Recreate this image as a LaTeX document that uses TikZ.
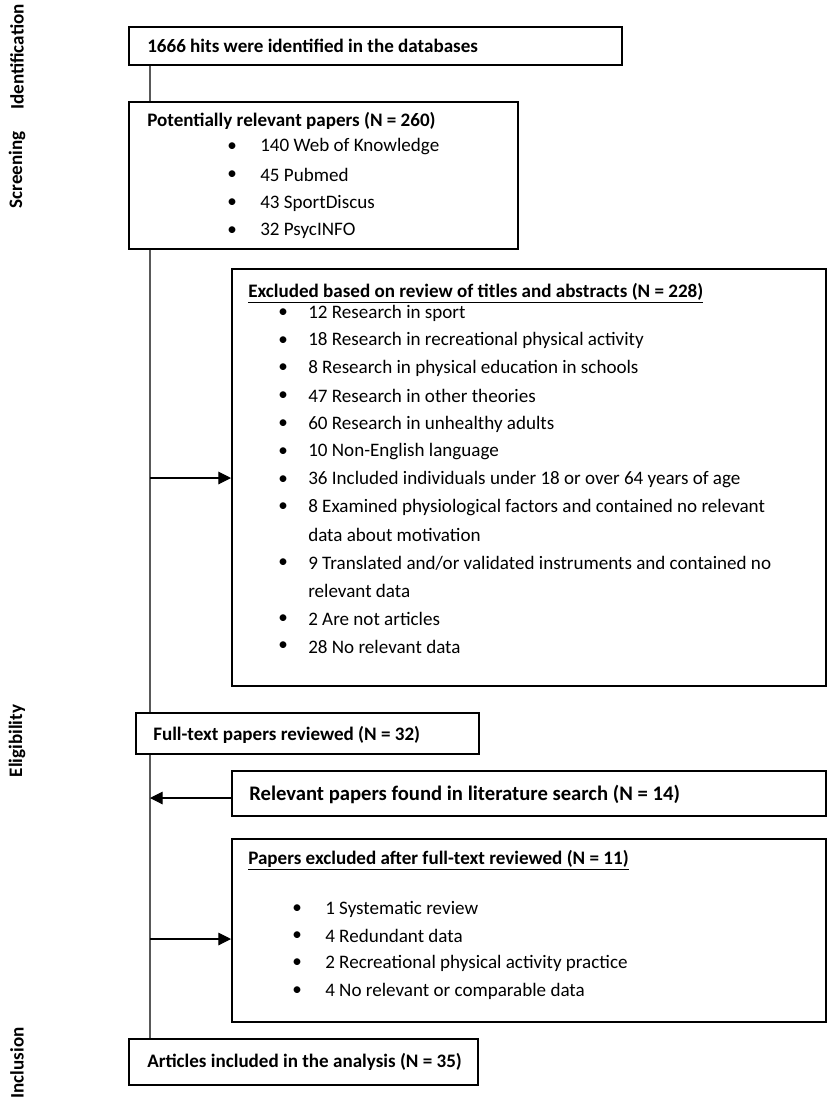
\documentclass[tikz,border=0pt]{standalone}
\usepackage{fontspec}
\setmainfont{Carlito}
\usetikzlibrary{arrows.meta,positioning,fit,backgrounds}

\begin{document}
\begin{tikzpicture}[x=0.75pt,y=-0.75pt,
  box/.style={draw,fill=white,line width=1.5pt,inner sep=0pt},
  txt/.style={anchor=west,inner sep=0pt,font=\fontsize{14.3}{16}\selectfont},
  head/.style={txt,font=\fontsize{14.3}{16}\selectfont\bfseries},
  phase/.style={rotate=90,inner sep=0pt,font=\fontsize{14.3}{16}\selectfont\bfseries},
  arrow/.style={-{Triangle[length=9.5pt,width=9.5pt]},line width=0.8pt}]
\useasboundingbox (0,0) rectangle (835,1104);

% phases
\node[phase] (ident) at (17,57) {Identification};
\node[phase] (screen) at (17,170) {Screening};
\node[phase] (elig) at (17,741) {Eligibility};
\node[phase] (incl) at (17,1063) {Inclusion};

% boxes
\node[box,fit={(129,27) (622,65)}] (hits) {};
\node[box,fit={(129,102) (518,249)}] (pot) {};
\node[box,fit={(232,269) (826,686)}] (excl) {};
\node[box,fit={(136,713) (479,754)}] (full) {};
\node[box,fit={(232,771) (826,816)}] (rel) {};
\node[box,fit={(232,839) (826,1022)}] (pexcl) {};
\node[box,fit={(129,1039) (478,1085)}] (art) {};

% texts
\node[head] (hitst) at (147,46) {1666 hits were identified in the databases};
\node[head] (pott) at (147,121) {Potentially relevant papers (N = 260)};
\foreach \y/\t in {147/140 Web of Knowledge,175/45 Pubmed,203/43 SportDiscus,231/32 PsycINFO}
  {\node[txt] at (227,\y) {\textbullet};
   \node[txt] at (260,\y) {\t};}

\node[head] (exclt) at (248,293) {\underline{Excluded based on review of titles and abstracts (N = 228)}};
\foreach \k/\t in {0/12 Research in sport,1/18 Research in recreational physical activity,
  2/8 Research in physical education in schools,3/47 Research in other theories,
  4/60 Research in unhealthy adults,5/10 Non-English language,
  6/36 Included individuals under 18 or over 64 years of age,
  7/8 Examined physiological factors and contained no relevant,
  9/{9 Translated and/or validated instruments and contained no},
  11/2 Are not articles,12/28 No relevant data}
  {\node[txt] at (278,313+27.8*\k) {\textbullet};
   \node[txt] at (308,313+27.8*\k) {\t};}
\node[txt] at (308,313+27.8*8) {data about motivation};
\node[txt] at (308,313+27.8*10) {relevant data};

\node[head] (fullt) at (153,735) {Full-text papers reviewed (N = 32)};
\node[head,font=\fontsize{15.5}{17}\selectfont\bfseries] (relt) at (249,794) {Relevant papers found in literature search (N = 14)};

\node[head] (pexclt) at (248,860) {\underline{Papers excluded after full-text reviewed (N = 11)}};
\foreach \y/\t in {909/1 Systematic review,936/4 Redundant data,
  963/2 Recreational physical activity practice,991/4 No relevant or comparable data}
  {\node[txt] at (292,\y) {\textbullet};
   \node[txt] at (325,\y) {\t};}

\node[head] (artt) at (147,1062) {Articles included in the analysis (N = 35)};

% flow line and arrows
\coordinate (top) at (hits.south -| 150,0);
\coordinate (s1) at (150,478);
\coordinate (s2) at (150,798);
\coordinate (s3) at (150,939);
\begin{scope}[on background layer]
\draw[line width=1pt,black!65] (top) -- (top |- art.north);
\end{scope}
\draw[arrow] (s1) -- (s1 -| excl.west);
\draw[arrow] (s2 -| rel.west) -- (s2);
\draw[arrow] (s3) -- (s3 -| pexcl.west);
\end{tikzpicture}
\end{document}
